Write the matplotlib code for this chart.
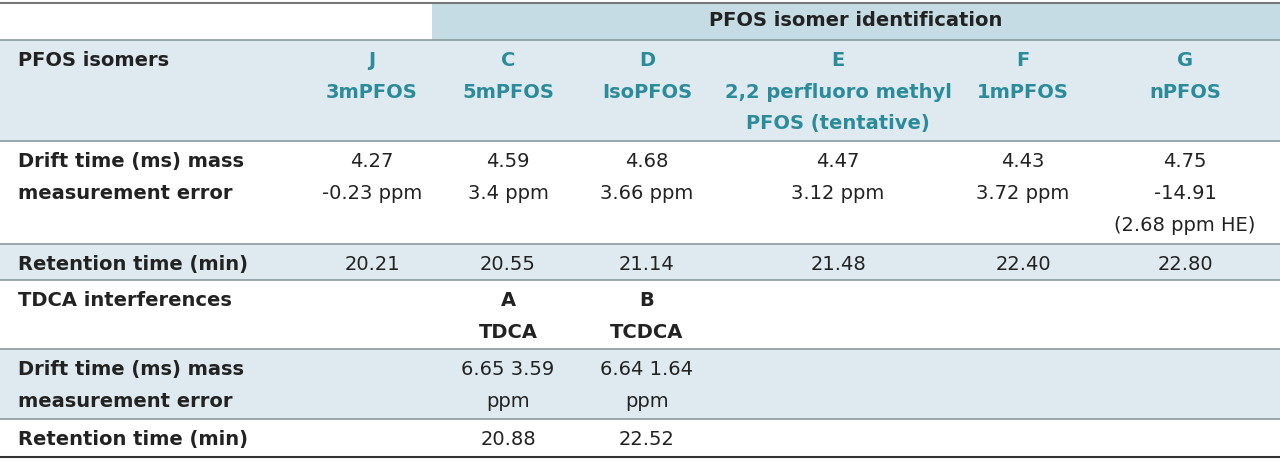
import matplotlib
matplotlib.use("Agg")
import matplotlib.pyplot as plt
from matplotlib.patches import Rectangle

plt.rcParams['font.family'] = ['Liberation Sans Narrow', 'DejaVu Sans']

row_labels = ["PFOS isomers", "Drift time (ms) mass\nmeasurement error", "Retention time (min)",
              "TDCA interferences", "Drift time (ms) mass\nmeasurement error", "Retention time (min)"]
isomer_ids = ["J\n3mPFOS", "C\n5mPFOS", "D\nIsoPFOS", "E\n2,2 perfluoro methyl\nPFOS (tentative)", "F\n1mPFOS", "G\nnPFOS"]
isomer_drift = ["4.27\n-0.23 ppm", "4.59\n3.4 ppm", "4.68\n3.66 ppm", "4.47\n3.12 ppm", "4.43\n3.72 ppm", "4.75\n-14.91\n(2.68 ppm HE)"]
isomer_rt = ["20.21", "20.55", "21.14", "21.48", "22.40", "22.80"]
tdca_ids = ["", "A\nTDCA", "B\nTCDCA", "", "", ""]
tdca_drift = ["", "6.65 3.59\nppm", "6.64 1.64\nppm", "", "", ""]
tdca_rt = ["", "20.88", "22.52", "", "", ""]
title = "PFOS isomer identification"

W, H = 1280, 461
fig = plt.figure(figsize=(12.8, 4.61), dpi=100)
ax = fig.add_axes([0, 0, 1, 1])
ax.set_xlim(0, W); ax.set_ylim(H, 0); ax.axis('off')

light = '#deeaef'; dark = '#c5dce4'; teal = '#2b8b9b'; txt = '#222222'
bounds = [40, 141, 244, 280, 349, 419, 457]
shade = [True, False, True, False, True, False]
ax.add_patch(Rectangle((432, 3), W - 432, 37, color=dark, lw=0))
for i in range(6):
    if shade[i]:
        ax.add_patch(Rectangle((0, bounds[i]), W, bounds[i+1] - bounds[i], color=light, lw=0))
ax.plot([0, W], [3, 3], color='#777777', lw=1.5)
for y in bounds[:-1]:
    ax.plot([0, W], [y, y], color='#8a9aa0', lw=1.2)
ax.plot([0, W], [457, 457], color='#333333', lw=1.5)

ax.text(856, 21, title, ha='center', va='center', fontsize=14, fontweight='bold', color=txt)
cols = [372, 508, 647, 838, 1023, 1185]
rows = [(isomer_ids, teal, 'bold'), (isomer_drift, txt, 'normal'), (isomer_rt, txt, 'normal'),
        (tdca_ids, txt, 'bold'), (tdca_drift, txt, 'normal'), (tdca_rt, txt, 'normal')]
for i, (vals, c, w) in enumerate(rows):
    top = bounds[i] + 11
    ax.text(18, top, row_labels[i], ha='left', va='top', fontsize=14, fontweight='bold',
            color=txt, linespacing=1.85)
    for x, v in zip(cols, vals):
        ax.text(x, top, v, ha='center', va='top', fontsize=14, fontweight=w, color=c,
                linespacing=1.85)

fig.savefig('out.png', dpi=100)
